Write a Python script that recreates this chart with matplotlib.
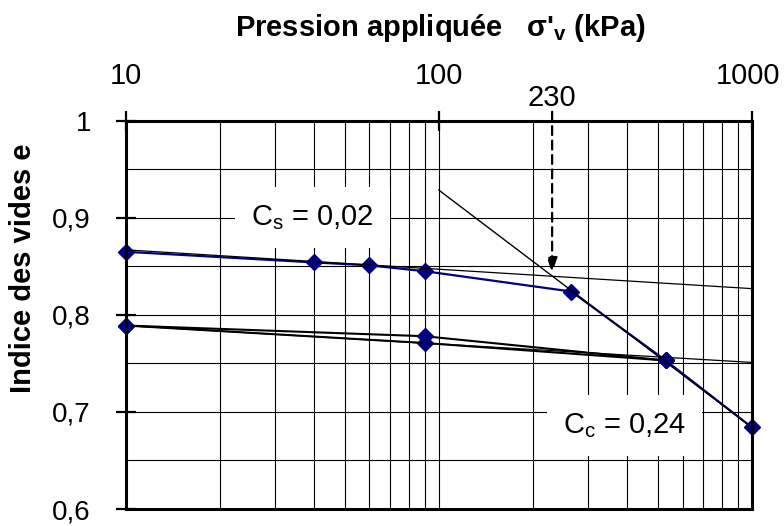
import matplotlib
matplotlib.use("Agg")
import matplotlib.pyplot as plt
import matplotlib.transforms as mtransforms
import numpy as np

plt.rcParams['font.family'] = ['Liberation Sans', 'DejaVu Sans']
plt.rcParams['mathtext.fontset'] = 'custom'
plt.rcParams['mathtext.rm'] = 'Liberation Sans'

""" data """
# loading curve (blue)
p_load = [10, 40, 60, 90, 265, 530, 1000]
e_load = [0.865, 0.854, 0.851, 0.845, 0.824, 0.753, 0.684]
# unloading / reloading loop
p_unload = [530, 90, 10]
e_unload = [0.753, 0.778, 0.789]
p_reload = [10, 90, 530]
e_reload = [0.789, 0.771, 0.753]
# construction lines
cs_top_p, cs_top_e = [10, 1000], [0.867, 0.827]
cs_low_p, cs_low_e = [10, 1000], [0.789, 0.751]
cc_p, cc_e = [100, 1000], [0.9285, 0.684]
sigma_p = 230
sigma_e_tip = 0.843
y_ticks = [0.6, 0.7, 0.8, 0.9, 1.0]
y_ticklabels = ["0,6", "0,7", "0,8", "0,9", "1"]
x_ticks = [10, 100, 1000]
x_ticklabels = ["10", "100", "1000"]

navy = "#000080"

""" figure """
fig = plt.figure(figsize=(7.84, 5.26), dpi=100)
ax = fig.add_axes([125.7/784, 1-509/526, (752-125.7)/784, (509-120.7)/526])
ax.set_xscale('log')
ax.set_xlim(10, 1000)
ax.set_ylim(0.6, 1.0)

## grid
for v in np.arange(0.65, 1.0, 0.05):
    ax.axhline(v, color="black", lw=0.8, zorder=1)
for dec in [10, 100]:
    for k in range(2, 10):
        ax.axvline(dec*k, color="black", lw=0.8, zorder=1)
ax.axvline(100, color="black", lw=0.8, zorder=1)

## data
ax.plot(p_load, e_load, color=navy, lw=1.6, marker='D', ms=8, zorder=4, clip_on=False)
ax.plot(p_unload, e_unload, color="black", lw=1.5, marker='D', ms=8, mfc=navy, mec=navy, zorder=4, clip_on=False)
ax.plot(p_reload, e_reload, color="black", lw=1.5, marker='D', ms=8, mfc=navy, mec=navy, zorder=4, clip_on=False)

## construction lines
ax.plot(cs_top_p, cs_top_e, color="black", lw=0.9, zorder=5, clip_on=False)
ax.plot(cs_low_p, cs_low_e, color="black", lw=0.9, zorder=5, clip_on=False)
ax.plot(cc_p, cc_e, color="black", lw=1.0, zorder=5, clip_on=False)

## preconsolidation arrow
ax.annotate("", xy=(sigma_p, sigma_e_tip), xytext=(sigma_p, 1.0 + 9/970),
            arrowprops=dict(arrowstyle="-|>,head_width=0.3,head_length=0.9", color="black",
                            lw=1.6, linestyle=(0, (4, 2.5)), shrinkA=0, shrinkB=0),
            annotation_clip=False, zorder=6)
ax.text(sigma_p, 1.0 + 23/970, str(sigma_p), ha="center", va="center", fontsize=21, clip_on=False)

## coefficient labels
box = dict(boxstyle="square,pad=0.55", fc="white", ec="none")
ax.text(39.4, 0.9, r"C$_\mathregular{s}$ = 0,02", fontsize=21, ha="center", va="center", bbox=box, zorder=3)
ax.text(392, 0.686, r"C$_\mathregular{c}$ = 0,24", fontsize=21, ha="center", va="center", bbox=box, zorder=3)

## axes settings
for s in ax.spines.values():
    s.set_linewidth(2.2)
    s.set_zorder(7)
ax.set_xticks(x_ticks)
ax.set_xticklabels(x_ticklabels)
ax.xaxis.set_minor_locator(matplotlib.ticker.NullLocator())
ax.set_yticks(y_ticks)
ax.set_yticklabels(y_ticklabels)
ax.tick_params(axis='x', which='major', top=True, bottom=False, labeltop=True, labelbottom=False,
               direction='inout', length=14, width=1.6, labelsize=21, pad=15)
ax.tick_params(axis='y', which='major', direction='inout', length=14, width=1.6, labelsize=20, pad=18)
# keep the last top label inside the figure
last = ax.xaxis.get_major_ticks()[-1].label2
last.set_transform(last.get_transform() + mtransforms.ScaledTranslation(-4/100, 0, fig.dpi_scale_trans))

fig.text(440/784, 1-28/526, r"Pression appliquée   σ'$_\mathregular{v}$ (kPa)", ha="center", va="center",
         fontsize=21, fontweight="bold")
fig.text(23/784, 1-268/526, "Indice des vides e", rotation=90, ha="center", va="center",
         fontsize=21, fontweight="bold")

plt.savefig("out.png", dpi=100)
